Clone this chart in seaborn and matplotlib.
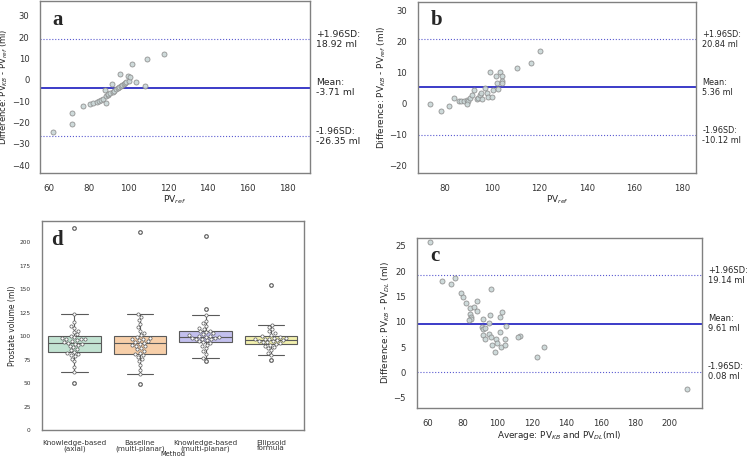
import matplotlib
matplotlib.use("Agg")
import matplotlib.pyplot as plt
import matplotlib.transforms as mtransforms
import numpy as np
import pandas as pd
import seaborn as sns

sns.set_theme(style="white")
plt.rcParams["font.family"] = ["DejaVu Sans"]

# ---- panel a: KB vs reference (axial) ----
pv_ref_a = [62, 71.5, 71.5, 77, 80.5, 82, 84, 85, 86, 87, 88, 88.5, 88.5, 89.5,
            90, 91, 92, 92.5, 93, 94, 95, 95.5, 96, 96.5, 97, 98, 98.5, 99, 100,
            100.5, 101, 102, 104, 108.5, 109.5, 118]
diff_a = [-24.6, -15.4, -20.7, -12.3, -11.1, -11, -10.5, -10, -9.2, -8.8, -4.8,
          -11, -7.5, -7, -6.5, -6, -2, -5.5, -5, -4.5, -4, -3.5, 2.8, -3, -2.5,
          -2, -1.5, -1, 1.8, -0.5, 1.2, 7.3, -1.2, -2.9, 9.8, 12.1]
limits_a = [18.92, -3.71, -26.35]

# ---- panel b: KB vs reference (multi-planar) ----
pv_ref_b = [74, 78.3, 82, 84.1, 86, 87, 88, 89.4, 90, 89.5, 90.8, 91.6, 92.4,
            93.6, 94.3, 95, 95.7, 95.4, 97, 97.7, 98.5, 99, 100, 100.5, 101.6,
            102, 102.5, 103.5, 104, 104, 104.2, 110.5, 116.5, 120]
diff_b = [-0.2, -2.5, -0.6, 1.9, 1.0, 1.0, 1.0, 1.2, 1.0, -0.2, 1.7, 2.8, 4.5,
          1.5, 2.0, 2.9, 1.6, 3.4, 5.0, 3.6, 2.3, 10.4, 2.3, 4.5, 8.8, 6.6, 4.9,
          10.4, 9.0, 7.5, 6.8, 11.5, 13.3, 16.9]
limits_b = [20.84, 5.36, -10.12]

# ---- panel c: KB vs DL ----
avg_c = [61, 68.1, 73, 75.6, 78.8, 79.9, 81.6, 84.1, 86.7, 88, 88, 84, 84.5, 85,
         83.8, 96.1, 91.8, 95.7, 101.5, 103, 95, 91, 92, 93, 105, 92, 93, 95.5,
         96.5, 97, 98.5, 99.5, 100, 101.5, 102, 104.5, 104.5, 113, 112, 127,
         122.8, 210.2]
diff_c = [25.8, 18.1, 17.5, 18.7, 15.6, 14.8, 13.7, 12.7, 12.9, 14, 12.2, 11.5,
          11, 10.6, 10.3, 16.4, 10.5, 11.4, 11, 11.9, 9.7, 8.9, 8.6, 8.8, 9.2,
          7.3, 6.5, 7.6, 7, 5.4, 4.1, 6.6, 5.8, 8, 5.1, 6.6, 5.4, 7.1, 7, 5.1,
          3.1, -3.3]
limits_c = [19.14, 9.61, 0.08]

# ---- panel d: volumes per method ----
methods = ["Knowledge-based\n(axial)", "Baseline\n(multi-planar)",
           "Knowledge-based\n(multi-planar)", "Ellipsoid\nformula"]
vol_kb_axial = [49.7, 61.8, 67, 73, 76, 78.5, 80, 81, 82, 83.5, 85, 86.5, 88,
                89.5, 90.5, 91.5, 92, 93, 94, 95, 95.5, 96.5, 97, 97.5, 98, 99,
                100.5, 102, 104, 106, 108.5, 111, 114.7, 124, 215]
vol_baseline = [48.7, 59.3, 64, 69, 73, 76, 78, 80, 81, 82.5, 84, 86, 87.5, 89,
                90, 91, 92, 93, 94, 95, 96, 96.5, 97, 98, 99.5, 101, 103, 106,
                109.5, 113, 117, 120.8, 123.7, 210.7]
vol_kb_multi = [74, 77, 81, 84, 87, 89.5, 91, 92.5, 93.5, 94.5, 95.5, 96.5, 97,
                97.5, 98, 98.5, 99, 99.5, 100, 100.5, 101, 102, 103, 104, 105,
                106, 107.5, 109, 111, 113.5, 116, 123, 129, 206.7]
vol_ellipsoid = [74.6, 79.6, 82.5, 85, 87, 88.5, 90, 91, 92, 93, 93.5, 94, 94.5,
                 95, 95.5, 96, 96.5, 97, 97.5, 98, 98.5, 99, 100, 101.5, 103,
                 105, 107.5, 110.2, 112, 155]
box_colors = ["#c2e3d2", "#f7cfa9", "#c3c0ee", "#f2f0ae"]

fig = plt.figure(figsize=(7.49, 4.58), dpi=100)
ax_a = fig.add_axes([0.0534, 0.622, 0.3605, 0.376])
ax_b = fig.add_axes([0.558, 0.622, 0.3716, 0.374])
ax_d = fig.add_axes([0.0557, 0.0611, 0.350, 0.457])
ax_c = fig.add_axes([0.557, 0.1085, 0.3797, 0.3725])


def bland_altman(ax, x, y, limits, letter, xlabel, ylabel, fs, note_fs):
    sns.scatterplot(x=x, y=y, ax=ax, s=13, color="#c9d6d6",
                    edgecolor="#8a8a8a", linewidth=0.6, alpha=0.9, zorder=3)
    up, mean, low = limits
    ax.axhline(mean, color="#3b3bc8", lw=1.4, zorder=2)
    ax.axhline(up, color="#5a5ad0", lw=0.8, ls=":", zorder=2)
    ax.axhline(low, color="#5a5ad0", lw=0.8, ls=":", zorder=2)
    trans = mtransforms.blended_transform_factory(ax.transAxes, ax.transData)
    for val, name in [(up, "+1.96SD:"), (mean, "Mean:"), (low, "-1.96SD:")]:
        ax.text(1.022, val, f"{name}\n{val:.2f} ml", transform=trans,
                va="center", fontsize=note_fs, linespacing=1.15)
    ax.text(0.045, 0.95, letter, transform=ax.transAxes, va="top",
            fontsize=15, fontweight="bold", family="Liberation Serif")
    ax.set_xlabel(xlabel, fontsize=fs + 0.3, labelpad=0.5)
    ax.set_ylabel(ylabel, fontsize=fs + 0.3, labelpad=1)
    ax.tick_params(labelsize=fs, colors="#333333", pad=2)


bland_altman(ax_a, pv_ref_a, diff_a, limits_a, "a", "PV$_{ref}$",
             "Difference: PV$_{KB}$ - PV$_{ref}$ (ml)", 6.3, 6.7)
ax_a.set_xlim(55.5, 191.5)
ax_a.set_ylim(-43.7, 37)
ax_a.set_xticks(range(60, 181, 20))
ax_a.set_yticks(range(-40, 31, 10))
ax_a.tick_params(axis="y", labelsize=6.1, pad=1.5)
ax_a.set_ylabel("Difference: PV$_{KB}$ - PV$_{ref}$ (ml)", fontsize=6.0,
                labelpad=1.5)

bland_altman(ax_b, pv_ref_b, diff_b, limits_b, "b", "PV$_{ref}$",
             "Difference: PV$_{KB}$ - PV$_{ref}$ (ml)", 6.1, 5.9)
ax_b.set_xlim(68.8, 186)
ax_b.set_ylim(-22.4, 32.9)
ax_b.set_xticks(range(80, 181, 20))
ax_b.set_yticks(range(-20, 31, 10))

bland_altman(ax_c, avg_c, diff_c, limits_c, "c",
             "Average: PV$_{KB}$ and PV$_{DL}$(ml)",
             "Difference: PV$_{KB}$ - PV$_{DL}$ (ml)", 6.1, 6.0)
ax_c.set_xlim(53.6, 218.4)
ax_c.set_ylim(-7.1, 26.6)
ax_c.set_xticks(range(60, 201, 20))
ax_c.set_yticks(range(-5, 26, 5))

# ---- box + swarm ----
df = pd.DataFrame({
    "Method": np.repeat(methods, [len(vol_kb_axial), len(vol_baseline),
                                  len(vol_kb_multi), len(vol_ellipsoid)]),
    "Volume": vol_kb_axial + vol_baseline + vol_kb_multi + vol_ellipsoid,
})
sns.boxplot(data=df, x="Method", y="Volume", hue="Method", palette=box_colors,
            saturation=1, width=0.8, linecolor="#5a5a5a", linewidth=0.8,
            legend=False, ax=ax_d,
            flierprops={"marker": "o", "markersize": 2.5,
                        "markerfacecolor": "#b0b0b0",
                        "markeredgecolor": "#7a7a7a"})
sns.swarmplot(data=df, x="Method", y="Volume", color="white",
              edgecolor="#5a5a5a", linewidth=0.5, size=2.3, ax=ax_d)
ax_d.set_ylim(0, 223)
ax_d.set_yticks(range(0, 201, 25))
ax_d.set_xlabel("Method", fontsize=4.8)
ax_d.set_ylabel("Prostate volume (ml)", fontsize=5.5, labelpad=2)
ax_d.xaxis.set_label_coords(0.5, -0.099)
ax_d.tick_params(axis="y", labelsize=4.2, colors="#333333", pad=2)
ax_d.tick_params(axis="x", labelsize=5.2, colors="#333333", pad=1)
for lbl in ax_d.get_xticklabels():
    lbl.set_linespacing(0.92)
ax_d.text(0.035, 0.955, "d", transform=ax_d.transAxes, va="top",
          fontsize=15, fontweight="bold", family="Liberation Serif")

for ax in [ax_a, ax_b, ax_c, ax_d]:
    for sp in ax.spines.values():
        sp.set_color("#808080")
        sp.set_linewidth(1.0)

fig.savefig("out.png", dpi=100)
